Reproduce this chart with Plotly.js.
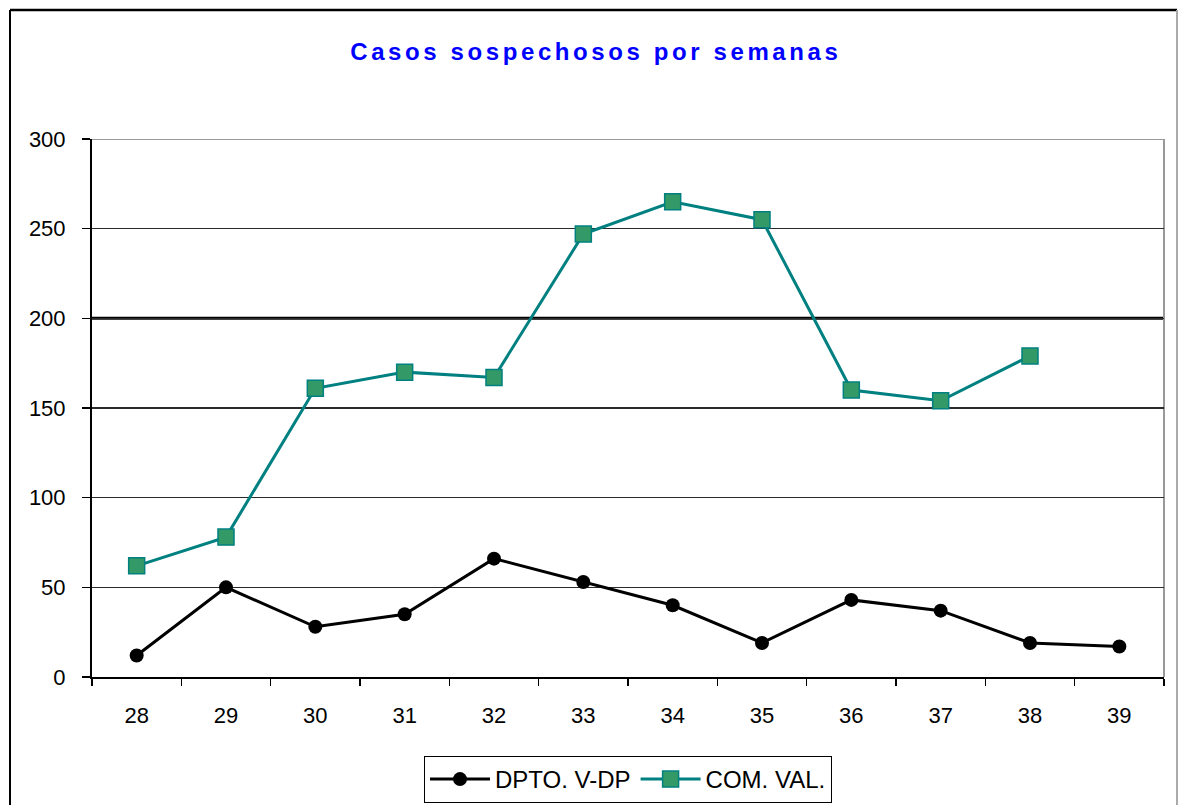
<!DOCTYPE html>
<html>
<head>
<meta charset="utf-8">
<script src="https://cdn.plot.ly/plotly-3.0.1.min.js"></script>
<style>
html, body { margin: 0; padding: 0; background: #fff; }
#chart { width: 1179px; height: 805px; }
.gtitle { letter-spacing: 3.6px; }
</style>
</head>
<body>
<div id="chart"></div>
<script>
var weeks = ['28', '29', '30', '31', '32', '33', '34', '35', '36', '37', '38', '39'];
var dptoValues = [12, 50, 28, 35, 66, 53, 40, 19, 43, 37, 19, 17];
var comValues = [62, 78, 161, 170, 167, 247, 265, 255, 160, 154, 179, null];
var yTicks = [0, 50, 100, 150, 200, 250, 300];

var traces = [
  {
    x: weeks, y: dptoValues, name: 'DPTO. V-DP', type: 'scatter', mode: 'lines+markers',
    line: { color: '#000000', width: 3 },
    marker: { symbol: 'circle', size: 14, color: '#000000' }
  },
  {
    x: weeks, y: comValues, name: 'COM. VAL.', type: 'scatter', mode: 'lines+markers',
    line: { color: '#008080', width: 3 },
    marker: { symbol: 'square', size: 16, color: '#339966', line: { color: '#008080', width: 1.5 } }
  }
];

var layout = {
  width: 1179, height: 805,
  margin: { l: 92, r: 15, t: 139, b: 128, autoexpand: false },
  paper_bgcolor: '#ffffff', plot_bgcolor: '#ffffff',
  font: { family: 'Liberation Sans, Arial, sans-serif', color: '#000000' },
  title: {
    text: 'Casos sospechosos por semanas',
    font: { family: 'Liberation Sans, Arial, sans-serif', size: 24, color: '#0000ff', weight: 'bold' },
    x: 0.47, xanchor: 'center', xref: 'paper',
    y: 1 - 52 / 805, yref: 'container', yanchor: 'middle'
  },
  showlegend: true,
  legend: {
    orientation: 'h', x: 0.5, xanchor: 'center', y: 1 - 756 / 805, yref: 'container', yanchor: 'top',
    bordercolor: '#000000', borderwidth: 1, bgcolor: '#ffffff',
    font: { size: 24, family: 'Liberation Sans, Arial, sans-serif', color: '#000000' },
    itemwidth: 60, tracegroupgap: 0
  },
  xaxis: {
    type: 'category', categoryorder: 'array', categoryarray: weeks,
    range: [-0.5, 11.5], automargin: false,
    showline: true, linecolor: '#000000', linewidth: 2,
    ticks: 'outside', tickson: 'boundaries', ticklen: 7, tickcolor: '#000000', tickwidth: 1.5,
    showgrid: false, zeroline: false,
    tickfont: { size: 22, family: 'Liberation Sans, Arial, sans-serif', color: '#000000' },
    ticklabelstandoff: 18
  },
  yaxis: {
    range: [0, 300], tickvals: yTicks, ticktext: yTicks.map(String), automargin: false,
    showline: true, linecolor: '#000000', linewidth: 2,
    ticks: 'outside', ticklen: 8, tickcolor: '#000000', tickwidth: 1.5,
    showgrid: true, gridcolor: '#2a2a2a', gridwidth: 1.6, zeroline: false,
    tickfont: { size: 22, family: 'Liberation Sans, Arial, sans-serif', color: '#000000' },
    ticklabelstandoff: 12
  },
  shapes: [
    { type: 'line', xref: 'paper', yref: 'y', x0: 0, x1: 1, y0: 200, y1: 200, line: { color: '#000000', width: 3 }, layer: 'below' },
    { type: 'line', xref: 'paper', yref: 'y', x0: 0, x1: 1, y0: 300, y1: 300, line: { color: '#999999', width: 2 }, layer: 'below' },
    { type: 'line', xref: 'paper', yref: 'paper', x0: 1, x1: 1, y0: 0, y1: 1, line: { color: '#999999', width: 2 }, layer: 'below' },
    { type: 'line', xref: 'paper', yref: 'paper', x0: (10 - 92) / 1072, x1: (1177 - 92) / 1072, y0: (677 - 10) / 538, y1: (677 - 10) / 538, line: { color: '#000000', width: 2.5 } },
    { type: 'line', xref: 'paper', yref: 'paper', x0: (10 - 92) / 1072, x1: (10 - 92) / 1072, y0: (677 - 10) / 538, y1: (677 - 810) / 538, line: { color: '#000000', width: 2 } },
    { type: 'line', xref: 'paper', yref: 'paper', x0: (1177 - 92) / 1072, x1: (1177 - 92) / 1072, y0: (677 - 10) / 538, y1: (677 - 810) / 538, line: { color: '#aaaaaa', width: 2 } }
  ]
};

Plotly.newPlot('chart', traces, layout, { displayModeBar: false, staticPlot: true });
</script>
</body>
</html>
